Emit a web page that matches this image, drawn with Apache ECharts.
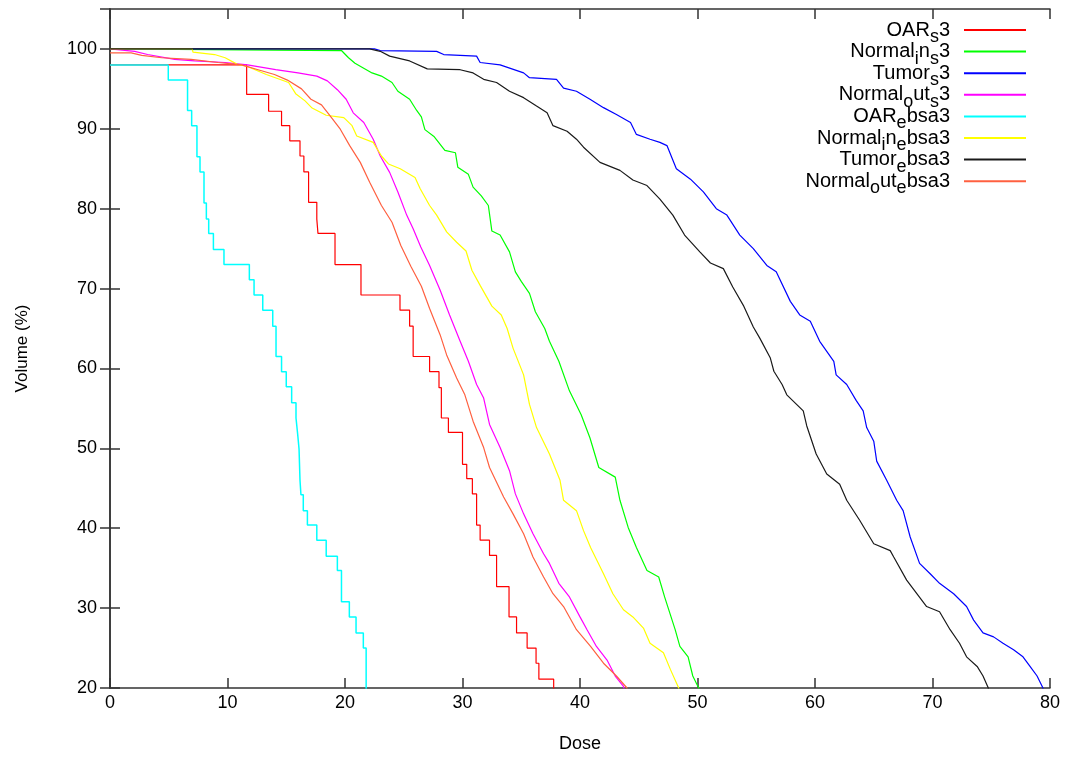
<!DOCTYPE html>
<html>
<head>
<meta charset="utf-8">
<script src="https://cdn.jsdelivr.net/npm/echarts@6/dist/echarts.min.js"></script>
<style>
html,body{margin:0;padding:0;background:#fff;}
#chart{width:1068px;height:758px;}
</style>
</head>
<body>
<div id="chart"></div>
<script>
// ---- data: [dose, volume %] ----
const seriesNames = ['OAR_s3','Normal_in_s3','Tumor_s3','Normal_out_s3','OAR_ebsa3','Normal_in_ebsa3','Tumor_ebsa3','Normal_out_ebsa3'];

const oarS3 = [[0,98.0],[11.63,94.3],[13.5,92.2],[14.6,90.4],[15.3,88.5],[16.17,86.6],[16.5,84.6],[16.9,80.8],[17.6,78.7],[17.7,76.9],[19.15,73.0],[21.36,69.2],[24.68,67.3],[25.5,65.3],[25.8,61.5],[27.2,59.6],[28.0,57.6],[28.2,53.8],[28.8,52.0],[30.0,48.0],[30.36,46.2],[30.84,44.3],[31.2,40.4],[31.5,38.5],[32.3,36.6],[32.9,32.7],[33.96,28.9],[34.6,26.9],[35.5,25.0],[36.26,23.1],[36.5,21.1],[37.76,15]];

const normalInS3 = [[0,100],[19.7,99.8],[20.3,98.9],[20.85,98.2],[22.3,97.0],[23.1,96.6],[24.0,95.8],[24.5,94.7],[25.5,93.7],[26.1,92.3],[26.5,91.5],[26.8,89.9],[27.6,89.0],[28.5,87.3],[29.4,87.0],[29.6,85.2],[30.5,84.3],[30.9,82.7],[31.6,81.6],[32.2,80.4],[32.5,77.2],[33.2,76.7],[34.0,74.6],[34.5,72.1],[35.0,70.9],[35.7,69.4],[36.2,67.1],[37.0,65.0],[37.4,63.4],[38.2,60.9],[39.1,57.2],[40.1,54.2],[40.85,51.3],[41.6,47.6],[43.0,46.4],[43.4,43.5],[44.1,40.1],[44.8,37.6],[45.7,34.7],[46.7,33.9],[47.2,31.4],[48.1,27.3],[48.5,25.2],[49.2,23.9],[49.6,21.5],[50.1,20],[50.3,18]];

const tumorS3 = [[0,100],[22.5,100],[23.0,99.8],[27.8,99.7],[28.4,99.3],[31.2,99.1],[31.5,98.3],[33.2,98.0],[35.2,97.0],[35.7,96.4],[38.0,96.2],[38.6,95.1],[39.7,94.7],[40.85,93.7],[42.0,92.65],[43.1,91.8],[44.3,90.8],[44.8,89.3],[45.96,88.7],[46.8,88.3],[47.4,87.9],[48.2,85.0],[49.4,83.7],[50.5,82.1],[51.6,80.0],[52.5,79.2],[53.6,76.7],[54.75,75.0],[55.9,72.9],[56.7,72.1],[57.9,68.4],[58.7,66.7],[59.6,65.9],[60.4,63.4],[61.6,60.9],[61.8,59.2],[62.7,58.0],[63.5,56.0],[64.1,54.7],[64.4,52.6],[65.0,50.9],[65.25,48.4],[66.1,46.0],[66.95,43.5],[67.5,42.2],[68.1,38.9],[68.9,35.6],[69.8,34.3],[70.6,33.1],[71.8,31.8],[72.9,30.2],[73.5,28.5],[74.3,26.9],[75.2,26.4],[76.0,25.6],[76.9,24.8],[77.7,23.9],[78.3,22.7],[78.9,21.5],[79.4,20],[79.6,18]];

const normalOutS3 = [[0,100],[2.1,99.7],[3.2,99.3],[5.5,98.7],[7.2,98.5],[9.8,98.3],[11.7,98.0],[14.1,97.4],[16.0,97.0],[17.6,96.6],[18.5,96.0],[19.35,94.9],[20.1,93.7],[20.7,92.0],[21.6,90.8],[22.4,88.7],[23.0,86.6],[23.8,84.55],[24.5,82.1],[25.25,79.2],[25.8,77.5],[26.45,75.2],[27.2,72.9],[28.1,69.8],[28.9,66.7],[29.8,63.4],[30.5,60.9],[31.2,58.0],[31.8,56.3],[32.3,53.0],[33.2,50.1],[34.0,47.2],[34.5,44.3],[35.2,41.8],[36.0,39.3],[36.9,36.8],[37.4,35.6],[38.2,33.1],[39.1,31.4],[40.0,28.9],[40.6,27.3],[41.4,25.2],[42.3,23.5],[43.0,21.5],[43.7,20.2],[44.0,18]];

const oarEbsa3 = [[0,98.0],[4.96,96.1],[6.6,92.3],[6.95,90.4],[7.4,86.5],[7.66,84.6],[8.0,80.7],[8.2,78.7],[8.4,76.9],[8.8,74.9],[9.7,73.0],[11.86,71.1],[12.26,69.2],[13.0,67.3],[13.85,65.3],[14.13,61.5],[14.6,59.6],[15.0,57.7],[15.46,55.7],[15.83,53.8],[15.97,51.8],[16.09,49.9],[16.17,46.0],[16.25,44.2],[16.45,42.2],[16.8,40.4],[17.6,38.5],[18.4,36.5],[19.35,34.7],[19.7,30.8],[20.37,28.9],[20.94,26.9],[21.56,25.0],[21.8,18]];

const normalInEbsa3 = [[0,100],[7.0,100],[7.06,99.6],[8.9,99.3],[9.8,98.9],[10.8,98.1],[11.7,97.8],[13.3,96.8],[15.2,95.8],[15.8,94.4],[16.6,93.5],[17.2,92.6],[18.4,91.7],[19.9,91.4],[20.6,90.4],[21.0,89.1],[22.4,88.3],[23.1,86.6],[23.7,85.6],[24.7,85.0],[25.96,83.9],[26.4,82.5],[27.2,80.4],[27.8,79.2],[28.65,77.1],[29.5,75.8],[30.3,74.7],[30.8,72.3],[31.5,70.4],[32.5,67.8],[33.3,66.7],[33.8,65.0],[34.3,62.55],[35.2,59.2],[35.7,55.5],[36.3,52.6],[37.4,49.3],[38.3,46.0],[38.6,43.5],[39.7,42.2],[40.3,39.7],[40.9,37.6],[42.0,34.3],[42.8,31.8],[43.7,29.8],[44.5,28.9],[45.4,27.5],[45.96,25.6],[47.1,24.4],[47.7,22.3],[48.4,20],[48.6,18]];

const tumorEbsa3 = [[0,100],[22.1,100],[23.0,99.7],[23.8,99.1],[25.5,98.5],[27.0,97.5],[29.8,97.4],[30.9,97.0],[31.8,96.2],[32.9,95.8],[34.0,94.7],[35.2,93.9],[36.3,92.85],[37.2,92.0],[37.7,90.4],[38.9,89.7],[39.7,88.7],[40.3,87.7],[41.7,85.8],[43.4,84.8],[44.5,83.6],[45.7,82.9],[46.8,81.2],[47.9,79.2],[48.9,76.7],[50.2,74.6],[51.1,73.2],[52.2,72.5],[53.0,70.2],[53.9,67.9],[54.75,65.2],[55.3,63.8],[56.2,61.3],[56.5,59.65],[57.2,58.0],[57.6,56.7],[59.0,54.7],[59.3,52.8],[60.1,49.3],[61.0,46.8],[62.1,45.5],[62.7,43.5],[63.8,41.0],[65.0,38.05],[66.4,37.2],[66.7,36.4],[67.8,33.5],[69.5,30.2],[70.6,29.55],[71.5,27.3],[72.3,25.6],[72.9,23.9],[73.8,22.7],[74.3,21.5],[74.75,20],[75.0,18]];

const normalOutEbsa3 = [[0,99.5],[1.8,99.5],[2.7,99.2],[4.4,98.9],[6.9,98.7],[9.2,98.3],[11.2,98.0],[12.6,97.4],[14.0,96.8],[15.1,96.1],[16.3,95.0],[17.1,93.7],[18.0,93.0],[18.75,91.6],[19.6,89.95],[20.4,87.9],[21.3,85.8],[22.1,83.3],[23.1,80.4],[24.0,78.3],[24.75,75.4],[25.6,72.8],[26.5,70.3],[27.2,67.5],[28.1,64.2],[28.65,61.7],[29.5,58.8],[30.2,56.7],[30.9,53.4],[31.8,50.1],[32.3,47.6],[33.5,43.9],[34.3,41.8],[35.2,39.3],[36.0,36.4],[36.9,33.9],[37.7,31.8],[38.6,30.2],[39.7,27.3],[40.9,25.2],[42.0,23.1],[43.1,21.5],[44.0,20],[44.2,18]];

const seriesData = [oarS3, normalInS3, tumorS3, normalOutS3, oarEbsa3, normalInEbsa3, tumorEbsa3, normalOutEbsa3];
const seriesColors = ['#ff0000','#00ff00','#0000ff','#ff00ff','#00ffff','#ffff00','#1a1a1a','#ff6040'];
const seriesStep = [true,false,false,false,true,false,false,false];

// legend labels with gnuplot-style subscripts
const legendRich = {
  'OAR_s3': '{n|OAR}{s|s}{n|3}',
  'Normal_in_s3': '{n|Normal}{s|i}{n|n}{s|s}{n|3}',
  'Tumor_s3': '{n|Tumor}{s|s}{n|3}',
  'Normal_out_s3': '{n|Normal}{s|o}{n|ut}{s|s}{n|3}',
  'OAR_ebsa3': '{n|OAR}{s|e}{n|bsa3}',
  'Normal_in_ebsa3': '{n|Normal}{s|i}{n|n}{s|e}{n|bsa3}',
  'Tumor_ebsa3': '{n|Tumor}{s|e}{n|bsa3}',
  'Normal_out_ebsa3': '{n|Normal}{s|o}{n|ut}{s|e}{n|bsa3}'
};

const FONT = 'Liberation Sans, Arial, sans-serif';
const chart = echarts.init(document.getElementById('chart'), null, {renderer:'canvas'});

const frameLine = {show:true, lineStyle:{color:'#333', width:1.5}};
const innerTick = {show:true, inside:true, length:10, lineStyle:{color:'#333', width:1.5}};

const option = {
  animation:false,
  backgroundColor:'#fff',
  grid:{left:110, right:18, top:9, bottom:66, containLabel:false},
  legend:{
    orient:'vertical', right:37, top:15, align:'right',
    icon:'rect', itemWidth:62, itemHeight:2, itemGap:-4.4,
    selectedMode:false,
    data: seriesNames,
    formatter: function(name){ return legendRich[name] + '{g|}'; },
    textStyle:{
      color:'#000', fontFamily:FONT,
      rich:{
        n:{fontSize:20, fontFamily:FONT, color:'#000', lineHeight:20, verticalAlign:'top'},
        s:{fontSize:18, fontFamily:FONT, color:'#000', lineHeight:11, padding:[8,0,0,0], verticalAlign:'top'},
        g:{width:9, lineHeight:20, verticalAlign:'top'}
      }
    }
  },
  xAxis:[{
    type:'value', min:0, max:80, interval:10, position:'bottom',
    name:'Dose', nameLocation:'middle', nameGap:47,
    nameTextStyle:{fontFamily:FONT, fontSize:18, color:'#000'},
    axisLine:frameLine, axisTick:innerTick, splitLine:{show:false},
    axisLabel:{fontFamily:FONT, fontSize:18, color:'#000', margin:6}
  },{
    type:'value', min:0, max:80, interval:10, position:'top',
    axisLine:frameLine, axisTick:innerTick, splitLine:{show:false},
    axisLabel:{show:false}
  }],
  yAxis:[{
    type:'value', min:20, max:105, interval:10, position:'left',
    name:'Volume (%)', nameLocation:'middle', nameGap:79, nameRotate:90,
    nameTextStyle:{fontFamily:FONT, fontSize:17, color:'#000'},
    axisLine:frameLine, axisTick:innerTick, splitLine:{show:false},
    axisLabel:{fontFamily:FONT, fontSize:18, color:'#000', margin:13, showMaxLabel:false}
  },{
    type:'value', min:20, max:105, interval:10, position:'right',
    axisLine:frameLine, axisTick:innerTick, splitLine:{show:false},
    axisLabel:{show:false}
  }],
  series: seriesNames.map(function(name, i){
    return {
      name:name, type:'line', xAxisIndex:0, yAxisIndex:0,
      data:seriesData[i], step: seriesStep[i] ? 'end' : false,
      symbol:'none', smooth:false, clip:true,
      lineStyle:{color:seriesColors[i], width:(i === 4 ? 1.5 : 1.2)},
      itemStyle:{color:seriesColors[i]},
      z: 2 + i
    };
  })
};
chart.setOption(option);
</script>
</body>
</html>
